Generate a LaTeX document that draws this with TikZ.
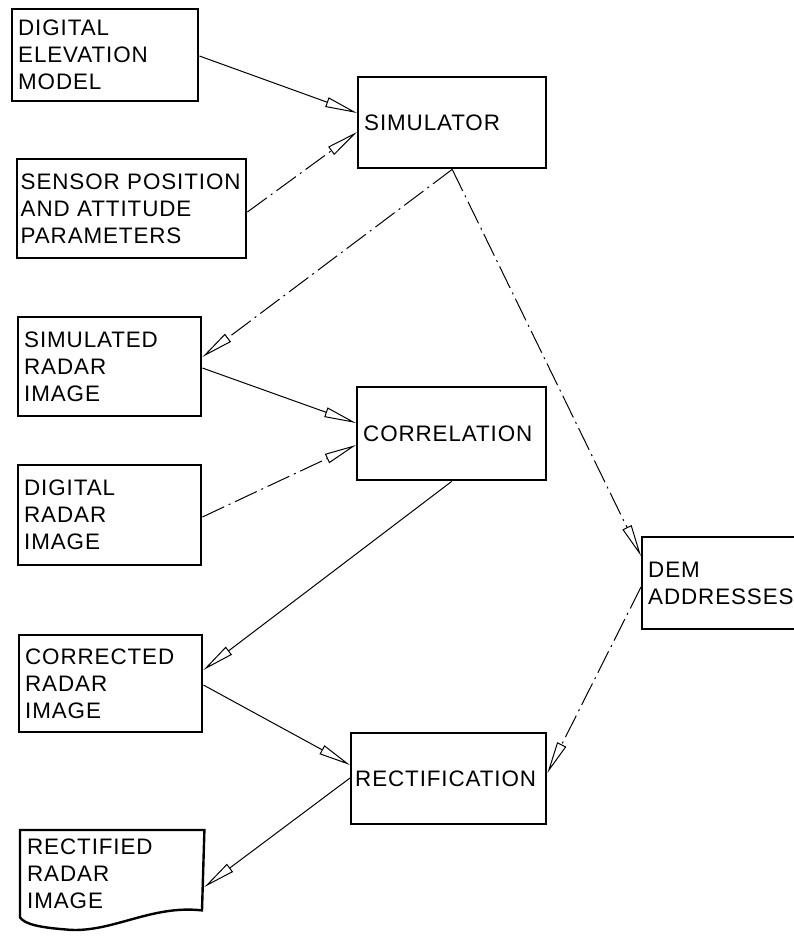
\documentclass[tikz,border=0pt]{standalone}
\usepackage{fontspec}
\setmainfont[LetterSpace=4]{Liberation Sans}
\usepackage{tikz}
\usetikzlibrary{calc}
\usetikzlibrary{arrows.meta}

\begin{document}
\begin{tikzpicture}[x=0.5pt, y=-0.5pt]

        % Styles for the boxes and the flow lines between them
        \tikzset{
            box/.style={draw, line width=1.2pt, anchor=north west, align=left,
                inner xsep=3pt, inner ysep=0pt,
                font=\fontsize{11.2}{13.5}\selectfont},
            flow/.style={line width=0.5pt,
                -{Triangle[open, length=16pt, width=5pt]}},
            broken/.style={flow, dash pattern=on 12pt off 2.5pt on 1pt off 2.5pt}
        }

        \useasboundingbox (0,0) rectangle (793,937);

        % Boxes, placed by their top left corner
        \begin{scope}
            \node (DEM) [box, minimum width=93pt, minimum height=46pt, text width=87pt] at (11,8) {DIGITAL\\ELEVATION\\MODEL};
            \node (SPA) [box, inner xsep=1.75pt, minimum width=114.5pt, minimum height=49.5pt, text width=111pt] at (16,158) {SENSOR POSITION\\AND ATTITUDE\\PARAMETERS};
            \node (SIM) [box, minimum width=94pt, minimum height=45.5pt, text width=88pt] at (357,76) {SIMULATOR};

            \node (SRI) [box, minimum width=91.5pt, minimum height=49.5pt, text width=85.5pt] at (17,316) {SIMULATED\\RADAR\\IMAGE};
            \node (COR) [box, minimum width=94.5pt, minimum height=46.5pt, text width=88.5pt] at (356,386) {CORRELATION};
            \node (DRI) [box, minimum width=91.5pt, minimum height=50pt, text width=85.5pt] at (17,464) {DIGITAL\\RADAR\\IMAGE};

            \node (ADR) [box, minimum width=80pt, minimum height=46pt, text width=74pt] at (641,536) {DEM\\ADDRESSES};

            \node (CRI) [box, minimum width=91.5pt, minimum height=48.5pt, text width=85.5pt] at (18,634) {CORRECTED\\RADAR\\IMAGE};
            \node (REC) [box, inner xsep=2pt, minimum width=97.5pt, minimum height=45.5pt, text width=93.5pt] at (350,732) {RECTIFICATION};
            \node (RRI) [box, draw=none, minimum width=91pt, minimum height=42.5pt, text width=85pt] at (20,830) {RECTIFIED\\RADAR\\IMAGE};
        \end{scope}

        % Document outline with the wavy lower edge
        \draw[line width=1.2pt] ($(RRI.south west)+(182,-7)$) -- (RRI.north east) -- (RRI.north west) -- (RRI.south west)
            .. controls ($(RRI.south west)+(5,7)$) and ($(RRI.south west)+(20,10)$) .. ($(RRI.south west)+(45,12)$)
            .. controls ($(RRI.south west)+(90,17)$) and ($(RRI.south west)+(130,-13)$) .. ($(RRI.south west)+(182,-7)$) -- cycle;

        \begin{scope}
            \draw[flow] ($(DEM.north east)+(0,48)$) -- ($(SIM.north west)+(0,37)$);
            \draw[broken] ($(SPA.north east)+(0,54)$) -- ($(SIM.north west)+(0,56)$);
            \draw[broken] (SIM.south) -- ($(SRI.north east)+(0,41)$);
            \draw[broken] (SIM.south) -- ($(ADR.north west)+(0,20)$);

            \draw[flow] ($(SRI.north east)+(0,52)$) -- ($(COR.north west)+(0,37)$);
            \draw[broken] ($(DRI.north east)+(0,53)$) -- ($(COR.north west)+(0,59)$);
            \draw[flow] (COR.south) -- ($(CRI.north east)+(0,36)$);

            \draw[flow] ($(CRI.north east)+(0,51)$) -- ($(REC.north west)+(0,33)$);
            \draw[broken] ($(ADR.north west)+(0,51)$) -- ($(REC.north east)+(0,41)$);
            \draw[flow] ($(REC.north west)+(0,46)$) -- ($(RRI.north east)+(0,57)$);
        \end{scope}

\end{tikzpicture}
\end{document}
